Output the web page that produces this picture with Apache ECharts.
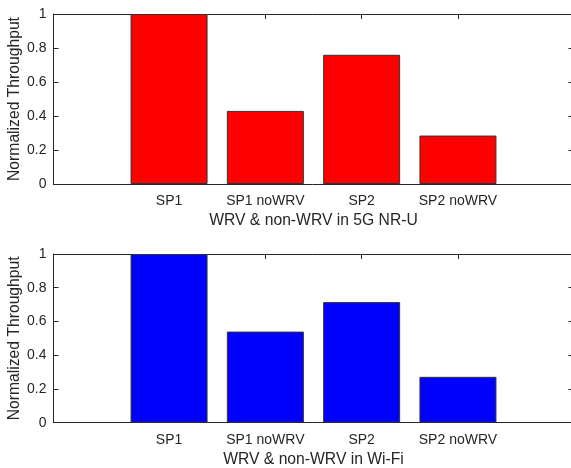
<!DOCTYPE html>
<html><head><meta charset="utf-8">
<script src="https://cdn.jsdelivr.net/npm/echarts@6/dist/echarts.min.js"></script>
<style>html,body{margin:0;padding:0;background:#fff}#c{width:571px;height:468px}</style>
</head><body><div id="c"></div>
<script>
const categories = ['SP1', 'SP1 noWRV', 'SP2', 'SP2 noWRV'];
const nrU = [1.0, 0.43, 0.76, 0.285];
const wifi = [1.0, 0.54, 0.715, 0.272];
const yTicks = [0, 0.2, 0.4, 0.6, 0.8, 1];
const titles = ['WRV & non-WRV in 5G NR-U', 'WRV & non-WRV in Wi-Fi'];
const yName = 'Normalized Throughput';
const colors = ['#ff0000', '#0000ff'];

const FONT = 'Liberation Sans, Arial, Helvetica, sans-serif';
const TXT = '#262626';
const pos = categories.map((c, i) => i + 1);

const grids = [
  {left: 53.5, top: 14, width: 520, height: 170, containLabel: false, outerBoundsMode: 'none'},
  {left: 53.5, top: 254, width: 520, height: 168.7, containLabel: false, outerBoundsMode: 'none'}
];
const xAxes = [], yAxes = [], series = [];
[nrU, wifi].forEach((vals, g) => {
  const lineStyle = {color: TXT, width: 1};
  xAxes.push({
    gridIndex: g, type: 'value', position: 'bottom', min: -0.2, max: 5.2,
    splitLine: {show: false},
    axisLine: {show: true, onZero: false, lineStyle},
    axisTick: {show: true, inside: true, length: 5, customValues: pos, lineStyle},
    axisLabel: {show: true, customValues: pos, margin: 10, color: TXT, fontSize: 14, fontFamily: FONT,
      formatter: v => categories[Math.round(v) - 1] || ''},
    name: titles[g], nameLocation: 'middle', nameGap: 29, nameMoveOverlap: false,
    nameTextStyle: {color: TXT, fontSize: 15.7, fontFamily: FONT, verticalAlign: 'top'}
  });
  xAxes.push({
    gridIndex: g, type: 'value', position: 'top', min: -0.2, max: 5.2,
    splitLine: {show: false},
    axisLine: {show: true, onZero: false, lineStyle},
    axisTick: {show: true, inside: true, length: 5, customValues: pos, lineStyle},
    axisLabel: {show: false}
  });
  yAxes.push({
    gridIndex: g, type: 'value', position: 'left', min: 0, max: 1, interval: 0.2,
    splitLine: {show: false},
    axisLine: {show: true, onZero: false, lineStyle},
    axisTick: {show: true, inside: true, length: 5, lineStyle},
    axisLabel: {show: true, margin: 7, color: TXT, fontSize: 14, fontFamily: FONT,
      formatter: v => { const t = yTicks.find(k => Math.abs(k - v) < 1e-9); return t === undefined ? '' : String(t); }},
    name: yName, nameLocation: 'middle', nameGap: 31, nameMoveOverlap: false,
    nameTextStyle: {color: TXT, fontSize: 15.7, fontFamily: FONT, verticalAlign: 'bottom'}
  });
  yAxes.push({
    gridIndex: g, type: 'value', position: 'right', min: 0, max: 1, interval: 0.2,
    splitLine: {show: false},
    axisLine: {show: true, onZero: false, lineStyle},
    axisTick: {show: true, inside: true, length: 5, lineStyle},
    axisLabel: {show: false}
  });
  series.push({
    type: 'bar', xAxisIndex: g * 2, yAxisIndex: g * 2,
    data: vals.map((v, i) => [pos[i], v]),
    barWidth: 77,
    itemStyle: {color: colors[g], borderColor: '#333333', borderWidth: 1},
    silent: true, animation: false
  });
});

const chart = echarts.init(document.getElementById('c'), null, {renderer: 'canvas'});
chart.setOption({
  animation: false,
  backgroundColor: '#ffffff',
  grid: grids,
  xAxis: xAxes,
  yAxis: yAxes,
  series
});
</script></body></html>
